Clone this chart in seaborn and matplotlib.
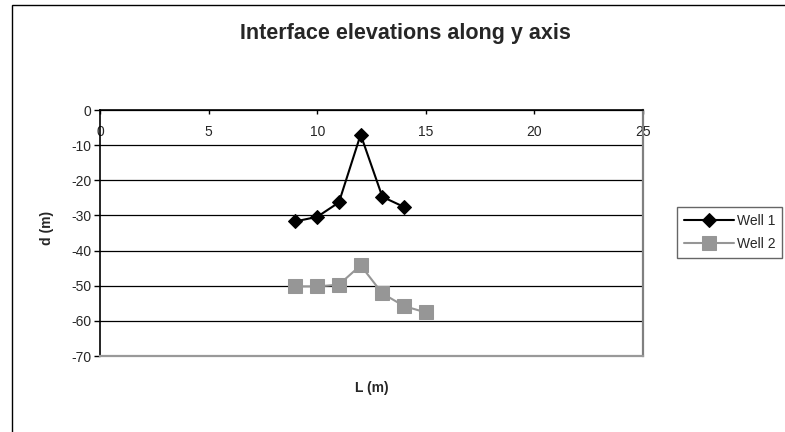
import matplotlib
matplotlib.use("Agg")
import matplotlib.pyplot as plt
import matplotlib.patches as mpatches
import seaborn as sns
import pandas as pd

# Data
well1_L = [9, 10, 11, 12, 13, 14]
well1_d = [-31.7, -30.4, -26.3, -7.0, -24.7, -27.6]
well2_L = [9, 10, 11, 12, 13, 14, 15]
well2_d = [-50.2, -50.2, -49.7, -44.2, -52.2, -55.8, -57.6]
x_ticks = [0, 5, 10, 15, 20, 25]
y_ticks = [0, -10, -20, -30, -40, -50, -60, -70]

title = "Interface elevations along y axis"
xlabel = "L (m)"
ylabel = "d (m)"

sns.set_style("white")
plt.rcParams['font.family'] = ['Liberation Sans', 'DejaVu Sans']

fig = plt.figure(figsize=(7.85, 4.32), dpi=100)
ax = fig.add_axes([100/785, 1-356/432, 543/785, 246/432])

df1 = pd.DataFrame({"L": well1_L, "d": well1_d})
df2 = pd.DataFrame({"L": well2_L, "d": well2_d})

sns.lineplot(data=df1, x="L", y="d", ax=ax, color="black", linewidth=1.5,
             marker="D", markersize=7.5, markeredgecolor="black",
             markerfacecolor="black", label="Well 1")
sns.lineplot(data=df2, x="L", y="d", ax=ax, color="#969696", linewidth=1.5,
             marker="s", markersize=9.5, markeredgecolor="#969696",
             markerfacecolor="#969696", label="Well 2")

ax.set_xlim(0, 25)
ax.set_ylim(-70, 0)
ax.set_xticks(x_ticks)
ax.set_yticks(y_ticks)
ax.set_yticklabels([str(v) for v in y_ticks])
ax.set_xticklabels([str(v) for v in x_ticks])

# gridlines
ax.yaxis.grid(True, color="black", linewidth=0.9)
ax.xaxis.grid(False)
ax.set_axisbelow(True)

# spines
ax.spines['left'].set_color('black')
ax.spines['left'].set_linewidth(1.2)
ax.spines['top'].set_color('black')
ax.spines['top'].set_linewidth(1.2)
ax.spines['right'].set_color('#808080')
ax.spines['right'].set_linewidth(1.6)
ax.spines['bottom'].set_color('#999999')
ax.spines['bottom'].set_linewidth(1.6)
for s in ax.spines.values():
    s.set_visible(True)

ax.tick_params(axis='x', top=True, bottom=False, labeltop=True, labelbottom=False,
               direction='in', length=3, width=1, color='black',
               labelsize=10, pad=-21)
ax.tick_params(axis='y', left=True, direction='out', length=4, width=1,
               color='black', labelsize=10, pad=2)

ax.set_xlabel(xlabel, fontsize=10, fontweight='bold')
ax.xaxis.set_label_position('bottom')
ax.xaxis.set_label_coords(0.5, -(388-356)/246, transform=ax.transAxes)
ax.xaxis.label.set_va('center')
ax.set_ylabel(ylabel, fontsize=10, fontweight='bold')
ax.yaxis.set_label_coords((47-100)/543, 0.5 + (233-228)/246)
ax.yaxis.label.set_va('center')

fig.text(405/785, 1-33/432, title, fontsize=15.5, fontweight='bold',
         ha='center', va='center')

leg = ax.legend(loc='center left', bbox_to_anchor=(677/785, 1-232.5/432),
                bbox_transform=fig.transFigure, fontsize=10, frameon=True,
                fancybox=False, edgecolor='#404040', handlelength=3.6,
                handletextpad=0.2, borderpad=0.5, labelspacing=0.6,
                borderaxespad=0)
leg.get_frame().set_linewidth(1.0)

# outer chart border
rect = mpatches.Rectangle((12/785, -0.1), 1.2, 0.1 + 1 - 5/432,
                          transform=fig.transFigure, fill=False,
                          edgecolor='black', linewidth=1.0)
fig.patches.append(rect)

fig.savefig("out.png", dpi=100)
